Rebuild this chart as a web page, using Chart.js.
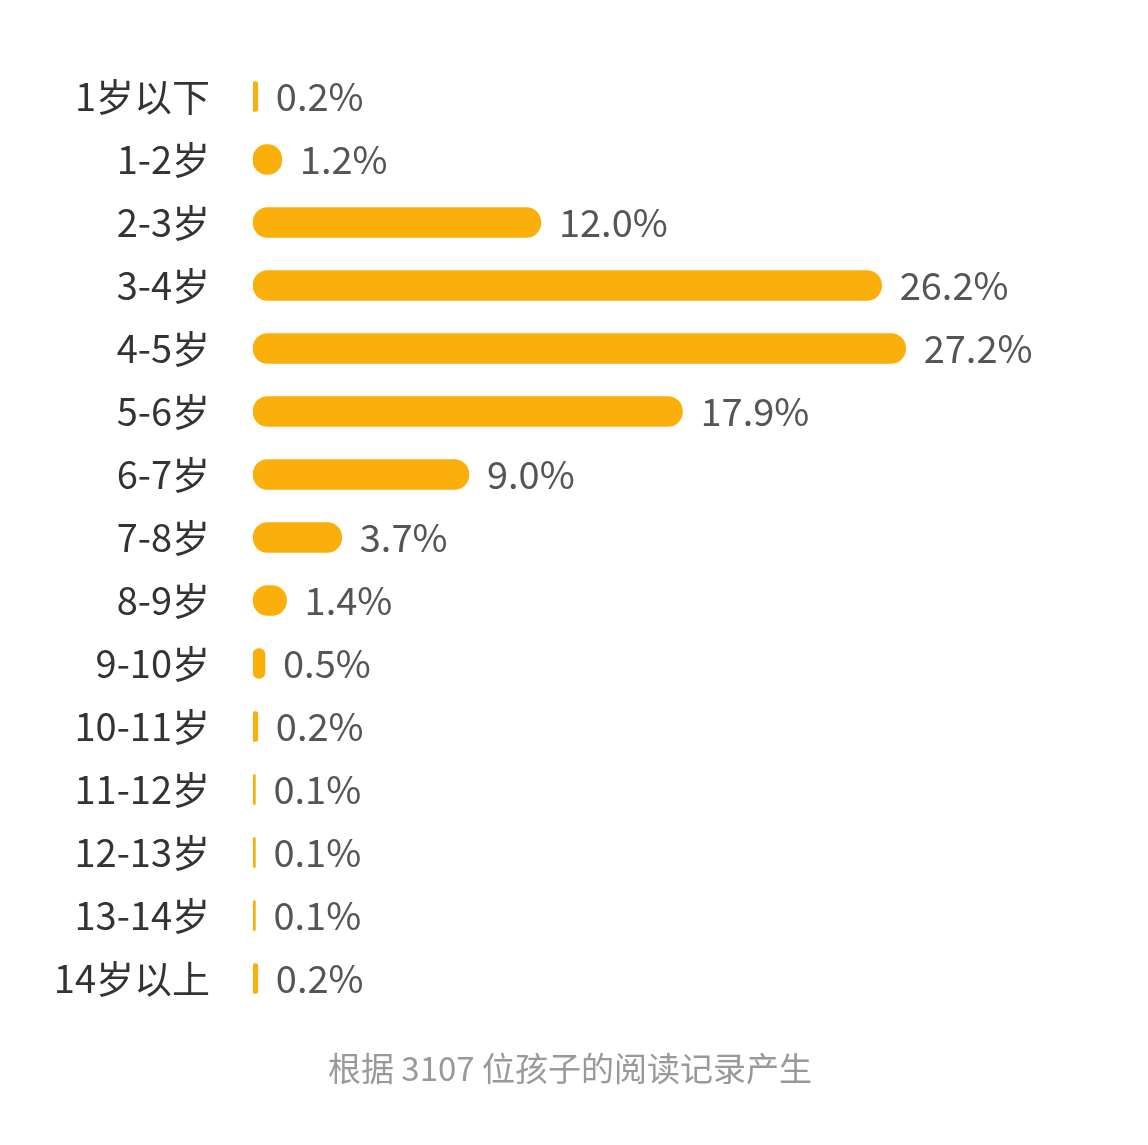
<html>
<head>
<script src="https://cdn.jsdelivr.net/npm/chart.js@4/dist/chart.umd.min.js"></script>
<style>body{margin:0;background:#fff}#wrap{width:1148px;height:1145px}</style>
</head>
<body>
<div id="wrap"><canvas id="c"></canvas></div>
<script>
var ages = ["1岁以下","1-2岁","2-3岁","3-4岁","4-5岁","5-6岁","6-7岁","7-8岁","8-9岁","9-10岁","10-11岁","11-12岁","12-13岁","13-14岁","14岁以上"];
var shares = [0.2,1.2,12.0,26.2,27.2,17.9,9.0,3.7,1.4,0.5,0.2,0.1,0.1,0.1,0.2];
var footnote = "根据 3107 位孩子的阅读记录产生";

var FONT = '"Noto Sans CJK SC", "Noto Sans", sans-serif';

// value labels after each bar + footnote
var labelsPlugin = {
  id: 'labels',
  afterDatasetsDraw: function(chart) {
    var ctx = chart.ctx;
    var meta = chart.getDatasetMeta(0);
    ctx.save();
    ctx.font = '38px ' + FONT;
    ctx.fillStyle = '#555';
    ctx.textBaseline = 'middle';
    ctx.textAlign = 'left';
    meta.data.forEach(function(bar, i) {
      ctx.fillText(shares[i].toFixed(1) + '%', bar.x + 18, bar.y);
    });
    ctx.font = '33px ' + FONT;
    ctx.fillStyle = '#999';
    ctx.textAlign = 'center';
    ctx.fillText(footnote, 570, 1068);
    ctx.restore();
  }
};

new Chart(document.getElementById('c'), {
  type: 'bar',
  data: {
    labels: ages,
    datasets: [{
      data: shares,
      backgroundColor: '#FBAF0B',
      barThickness: 30,
      borderRadius: 15,
      borderSkipped: false
    }]
  },
  options: {
    indexAxis: 'y',
    responsive: true,
    maintainAspectRatio: false,
    animation: false,
    layout: { padding: { top: 65, bottom: 135, left: 0, right: 48 } },
    plugins: { legend: { display: false }, tooltip: { enabled: false } },
    scales: {
      x: { display: false, min: 0, max: 35.3 },
      y: {
        grid: { display: false },
        border: { display: false },
        ticks: { color: '#333', font: { size: 38, family: FONT }, padding: 35 },
        afterFit: function(s) { s.width = 253; }
      }
    }
  },
  plugins: [labelsPlugin]
});
</script>
</body>
</html>
